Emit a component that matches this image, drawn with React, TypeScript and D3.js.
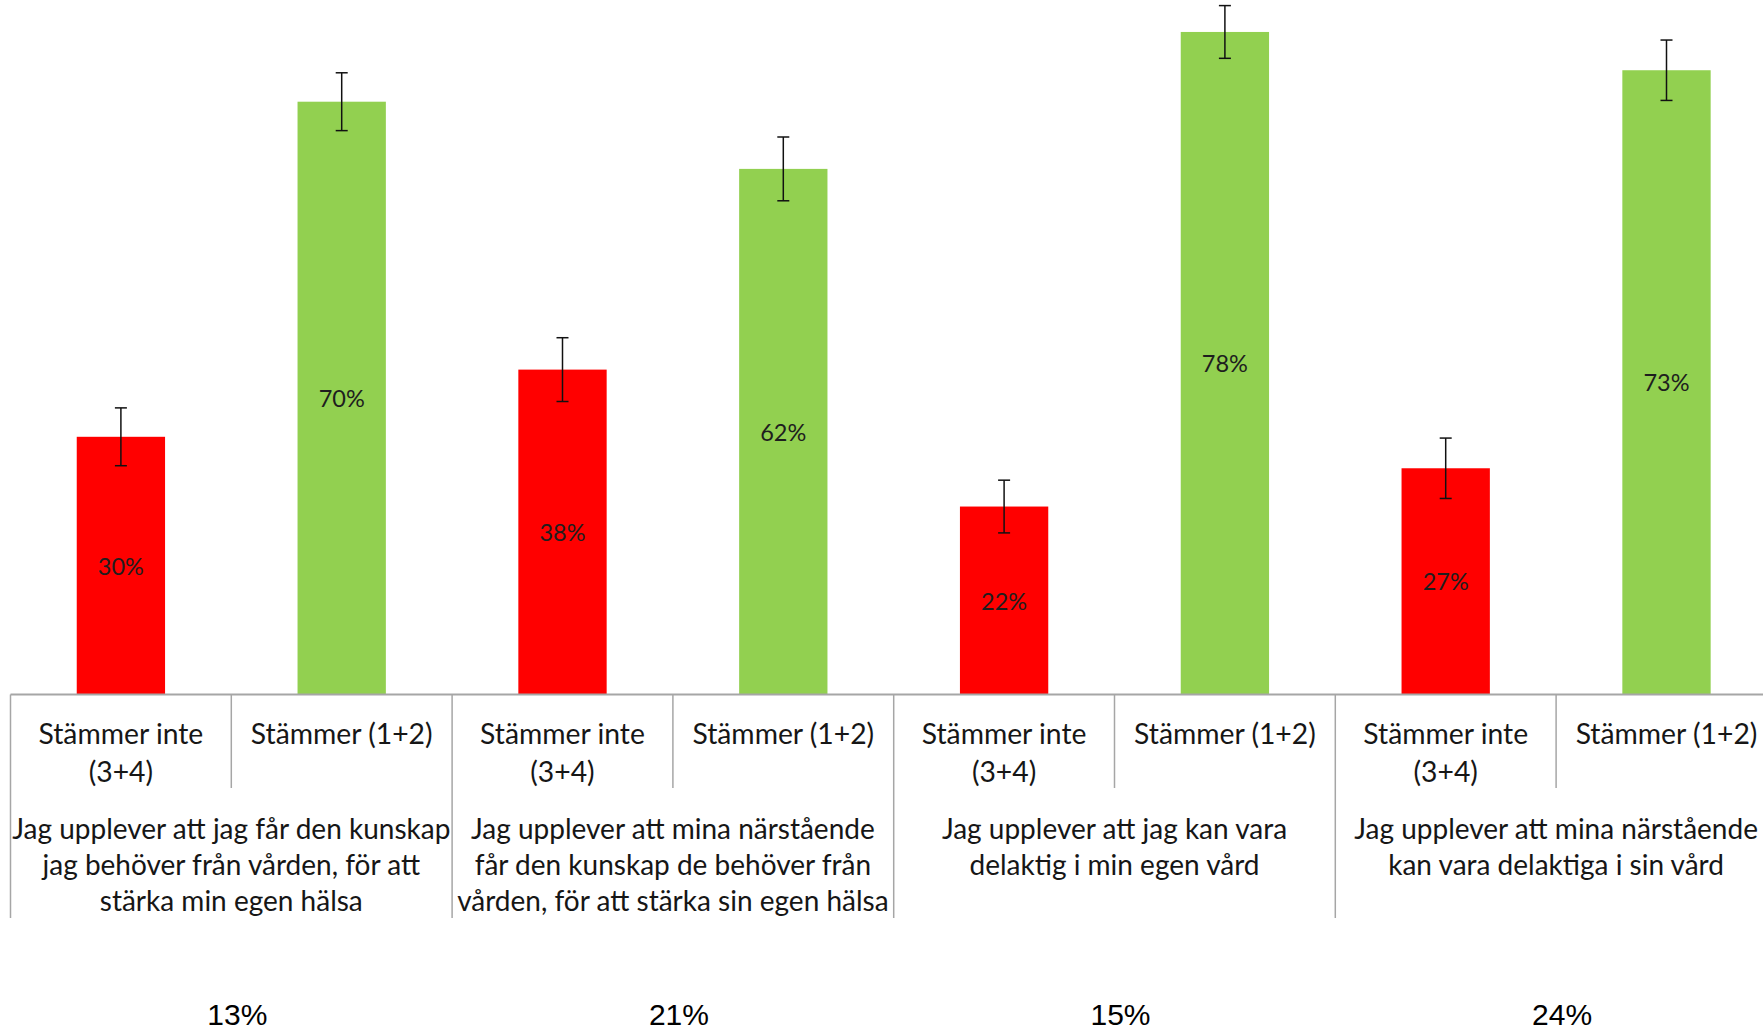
import { FC, useMemo } from "react";
import * as d3 from "d3";

const WIDTH = 1763;
const HEIGHT = 1030;

// questions (one group per question, two bars each)
const questions = [
  ["Jag upplever att jag får den kunskap", "jag behöver från vården, för att", "stärka min egen hälsa"],
  ["Jag upplever att mina närstående", "får den kunskap de behöver från", "vården, för att stärka sin egen hälsa"],
  ["Jag upplever att jag kan vara", "delaktig i min egen vård"],
  ["Jag upplever att mina närstående", "kan vara delaktiga i sin vård"],
];
const answers = [["Stämmer inte", "(3+4)"], ["Stämmer (1+2)"]];
const disagree = [0.303, 0.382, 0.221, 0.266];
const agree = [0.697, 0.618, 0.779, 0.734];
const errMargin = [0.034, 0.0375, 0.031, 0.0355];
const bottomShare = ["13%", "21%", "15%", "24%"];

const COLORS = ["#ff0000", "#92d050"];
const FONT = "Lato, 'Open Sans', sans-serif";

const BASE_Y = 694.5;
const LEFT = 10.5;
const STEP = 220.8;

type Bar = { idx: number; q: number; a: number; value: number; err: number };

const Chart: FC = () => {
  const bars: Bar[] = useMemo(() => {
    const out: Bar[] = [];
    questions.forEach((_, q) => {
      out.push({ idx: q * 2, q, a: 0, value: disagree[q], err: errMargin[q] });
      out.push({ idx: q * 2 + 1, q, a: 1, value: agree[q], err: errMargin[q] });
    });
    return out;
  }, []);

  const xScale = d3
    .scaleBand<number>()
    .domain(d3.range(bars.length))
    .range([LEFT, LEFT + bars.length * STEP])
    .padding(0);
  const yScale = d3.scaleLinear().domain([0, 0.8]).range([BASE_Y, 14.1]);
  const barW = xScale.bandwidth() * 0.4;
  const fmt = d3.format(".0%");

  const allBars = bars.map((d) => {
    const cx = (xScale(d.idx) ?? 0) + xScale.bandwidth() / 2;
    const y = yScale(d.value);
    const yTop = yScale(d.value + d.err);
    const yBot = yScale(d.value - d.err);
    return (
      <g key={d.idx}>
        <rect x={cx - barW / 2} y={y} width={barW} height={BASE_Y - y} fill={COLORS[d.a]} />
        <text
          x={cx}
          y={(y + BASE_Y) / 2}
          textAnchor="middle"
          dominantBaseline="central"
          fontFamily={FONT}
          fontSize={23.5}
          fill="#1e1e1e"
        >
          {fmt(d.value)}
        </text>
        <line x1={cx} x2={cx} y1={yTop} y2={yBot} stroke="#111" strokeWidth={1.5} />
        <line x1={cx - 6} x2={cx + 6} y1={yTop} y2={yTop} stroke="#111" strokeWidth={1.5} />
        <line x1={cx - 6} x2={cx + 6} y1={yBot} y2={yBot} stroke="#111" strokeWidth={1.5} />
      </g>
    );
  });

  // category table under the bars
  const table = bars.map((d) => {
    const x0 = xScale(d.idx) ?? 0;
    const cx = x0 + xScale.bandwidth() / 2;
    return (
      <g key={"t" + d.idx}>
        <line
          x1={x0}
          x2={x0}
          y1={BASE_Y}
          y2={d.a === 0 ? 918 : 788}
          stroke="#a6a6a6"
          strokeWidth={1.5}
        />
        {answers[d.a].map((t, i) => (
          <text
            key={i}
            x={cx}
            y={733 + i * 37.5}
            textAnchor="middle"
            dominantBaseline="central"
            fontFamily={FONT}
            fontSize={28.3}
            fill="#161616"
          >
            {t}
          </text>
        ))}
      </g>
    );
  });

  const groups = questions.map((lines, q) => {
    const gx = (xScale(q * 2) ?? 0) + STEP;
    return (
      <g key={"q" + q}>
        {lines.map((t, i) => (
          <text
            key={i}
            x={gx}
            y={828 + i * 36}
            textAnchor="middle"
            dominantBaseline="central"
            fontFamily={FONT}
            fontSize={28}
            fill="#161616"
          >
            {t}
          </text>
        ))}
        <text
          x={gx + 6}
          y={1025}
          textAnchor="middle"
          fontFamily="'Liberation Sans', Arial, sans-serif"
          fontSize={30}
          fill="#000"
        >
          {bottomShare[q]}
        </text>
      </g>
    );
  });

  return (
    <svg width={WIDTH} height={HEIGHT} style={{ display: "block", background: "#fff" }}>
      {allBars}
      <line x1={LEFT} x2={WIDTH} y1={BASE_Y} y2={BASE_Y} stroke="#a6a6a6" strokeWidth={2} />
      {table}
      {groups}
    </svg>
  );
};

export default function App() {
  return (
    <div style={{ position: "absolute", left: 0, top: 0, width: WIDTH, height: HEIGHT, overflow: "hidden" }}>
      <Chart />
    </div>
  );
}
